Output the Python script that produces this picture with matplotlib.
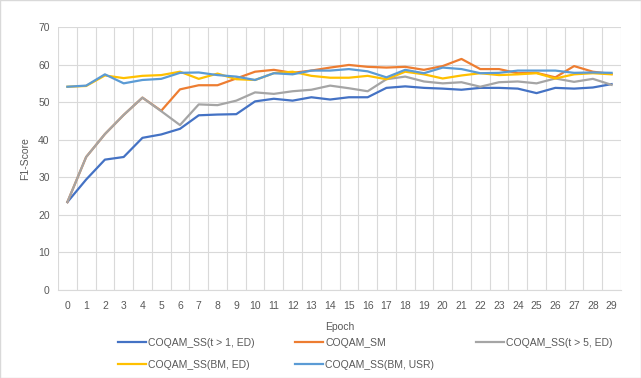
import numpy as np
import matplotlib.pyplot as plt
from matplotlib.patches import Rectangle

epochs = list(range(30))

ss_t1_ed = [23.4, 29.4, 34.7, 35.4, 40.5, 41.4, 42.9, 46.5, 46.7, 46.8,
            50.2, 50.9, 50.4, 51.3, 50.7, 51.3, 51.3, 53.8, 54.2, 53.8,
            53.6, 53.3, 53.8, 53.8, 53.6, 52.4, 53.8, 53.6, 53.9, 54.8]
sm = [23.4, 35.4, 41.5, 46.6, 51.2, 47.7, 53.4, 54.5, 54.5, 56.3,
      58.1, 58.6, 57.8, 58.4, 59.2, 59.9, 59.4, 59.2, 59.4, 58.6,
      59.6, 61.5, 58.8, 58.8, 57.7, 57.8, 56.6, 59.6, 58.1, 57.5]
ss_t5_ed = [23.4, 35.4, 41.5, 46.6, 51.2, 47.6, 43.9, 49.4, 49.2, 50.4,
            52.6, 52.2, 52.9, 53.3, 54.4, 53.7, 52.9, 56.1, 56.8, 55.5,
            55.0, 55.3, 54.1, 55.3, 55.5, 55.0, 56.3, 55.4, 56.2, 54.6]
ss_bm_ed = [54.1, 54.3, 57.1, 56.4, 57.0, 57.2, 58.1, 56.2, 57.6, 56.1,
            55.9, 57.7, 58.1, 57.0, 56.5, 56.5, 57.0, 56.1, 58.1, 57.4,
            56.3, 57.1, 57.7, 57.2, 57.4, 57.7, 56.3, 57.4, 57.7, 57.4]
ss_bm_usr = [54.1, 54.4, 57.4, 55.0, 55.9, 56.2, 57.8, 57.9, 57.2, 56.8,
             55.9, 57.7, 57.4, 58.4, 58.4, 58.8, 58.2, 56.6, 58.6, 57.7,
             59.2, 58.8, 57.7, 57.8, 58.4, 58.4, 58.4, 57.8, 57.9, 57.8]

series = [
    ('COQAM_SS(t > 1, ED)', ss_t1_ed, '#4472C4'),
    ('COQAM_SM', sm, '#ED7D31'),
    ('COQAM_SS(t > 5, ED)', ss_t5_ed, '#A5A5A5'),
    ('COQAM_SS(BM, ED)', ss_bm_ed, '#FFC000'),
    ('COQAM_SS(BM, USR)', ss_bm_usr, '#5B9BD5'),
]

plt.rcParams['font.family'] = ['Liberation Sans', 'DejaVu Sans']
text_color = '#595959'
grid_color = '#D9D9D9'

fig = plt.figure(figsize=(6.41, 3.78), dpi=100)
ax = fig.add_axes([58 / 641, 1 - 290 / 378, (621 - 58) / 641, (290 - 27) / 378])

lines = []
for name, values, color in series:
    line, = ax.plot(epochs, values, color=color, lw=1.6, label=name)
    lines.append(line)

ax.set_xlim(-0.5, 29.5)
ax.set_ylim(0, 70)
ax.set_yticks(np.arange(0, 71, 10))
ax.set_xticks(epochs)
ax.set_xticks(np.arange(-0.5, 30, 1), minor=True)
ax.grid(axis='y', which='major', color=grid_color, lw=0.8)
ax.grid(axis='x', which='minor', color=grid_color, lw=0.8)
ax.set_axisbelow(True)
ax.tick_params(which='both', length=0, colors=text_color, labelsize=7.5)
ax.tick_params(axis='x', pad=8)
ax.tick_params(axis='y', pad=6)
for side in ['top', 'right', 'left']:
    ax.spines[side].set_visible(False)
ax.spines['bottom'].set_color(grid_color)

ax.set_xlabel('Epoch', color=text_color, fontsize=7.5, labelpad=8)
ax.set_ylabel('F1-Score', color=text_color, fontsize=7.5, labelpad=6)

# legend entries laid out row by row, like the original
legend_pos = [(118, 343), (295, 343), (476, 343), (118, 365), (295, 365)]
for line, (px, py) in zip(lines, legend_pos):
    leg = fig.legend([line], [line.get_label()], loc='center left',
                     bbox_to_anchor=(px / 641, 1 - py / 378), frameon=False,
                     fontsize=7.5, handlelength=2.7, handletextpad=0.2,
                     borderpad=0, borderaxespad=0)
    for t in leg.get_texts():
        t.set_color(text_color)

fig.patches.append(Rectangle((0, 0), 1, 1, transform=fig.transFigure, fill=False,
                             edgecolor='#D9D9D9', lw=1))

fig.savefig('out.png', dpi=100)
